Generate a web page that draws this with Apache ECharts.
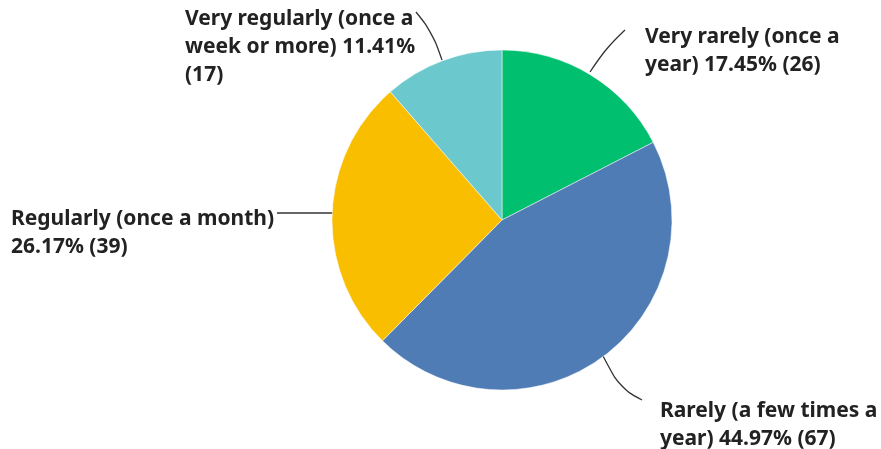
<!DOCTYPE html>
<html><head><meta charset="utf-8">
<script src="https://cdn.jsdelivr.net/npm/echarts@6/dist/echarts.min.js"></script>
<style>html,body{margin:0;padding:0;background:#fff}#c{width:881px;height:449px}</style>
</head><body><div id="c"></div>
<script>
const categories = ['Very rarely (once a year)', 'Rarely (a few times a year)', 'Regularly (once a month)', 'Very regularly (once a week or more)'];
const counts = [26, 67, 39, 17];
const percents = ['17.45%', '44.97%', '26.17%', '11.41%'];
const colors = ['#00BF6F', '#507CB6', '#F9BE00', '#6BC8CD'];
const fullText = [
  'Very rarely (once a\nyear) 17.45% (26)',
  'Rarely (a few times a\nyear) 44.97% (67)',
  'Regularly (once a month)\n26.17% (39)',
  'Very regularly (once a\nweek or more) 11.41%\n(17)'
];
const labelPos = [
  {x: 645, y: 23},
  {x: 660, y: 397},
  {x: 11, y: 205},
  {x: 185, y: 5}
];
const linePts = [
  [[590, 72], [606, 48], [625, 30]],
  [[603, 356], [620, 388], [642, 400]],
  [[333, 213], [305, 213], [277, 213]],
  [[442, 60], [432, 32], [416, 12]]
];
const chart = echarts.init(document.getElementById('c'));
chart.setOption({
  animation: false,
  series: [{
    type: 'pie',
    center: [502, 220],
    radius: 170,
    startAngle: 90,
    clockwise: true,
    data: categories.map((c, i) => ({name: c, value: counts[i], itemStyle: {color: colors[i]}})),
    itemStyle: {borderColor: '#fff', borderWidth: 0.5},
    label: {
      formatter: p => fullText[p.dataIndex],
      fontFamily: 'Noto Sans',
      fontSize: 21,
      fontWeight: 'bold',
      color: '#222',
      lineHeight: 28
    },
    labelLine: {show: true, smooth: 0.4, length: 20, length2: 20, lineStyle: {color: '#333', width: 1.3}},
    labelLayout: p => ({
      x: labelPos[p.dataIndex].x, y: labelPos[p.dataIndex].y,
      align: 'left', verticalAlign: 'top',
      labelLinePoints: linePts[p.dataIndex]
    })
  }]
});
</script></body></html>
